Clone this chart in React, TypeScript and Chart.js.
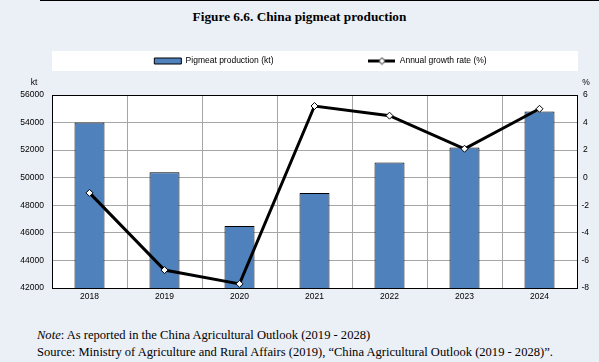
import React, { useEffect, useRef } from 'react';
import { Chart, registerables } from 'chart.js';

Chart.register(...registerables);

// ---- data ----
const years = ['2018', '2019', '2020', '2021', '2022', '2023', '2024'];
const production = [54000, 50400, 46500, 48900, 51100, 52200, 54800];
const growth = [-1.1, -6.7, -7.7, 5.2, 4.5, 2.1, 5.0];
const leftAxis = [42000, 56000, 2000];
const rightAxis = [-8, 6, 2];
const productionLabel = 'Pigmeat production (kt)';
const growthLabel = 'Annual growth rate (%)';
const leftUnit = 'kt';
const rightUnit = '%';
const titleText = 'Figure 6.6. China pigmeat production';
const noteText = ': As reported in the China Agricultural Outlook (2019 - 2028)';
const sourceText = 'Source: Ministry of Agriculture and Rural Affairs (2019), \u201cChina Agricultural Outlook (2019 - 2028)\u201d.';

// ---- style ----
const FS = 8.5;
const FAMILY = '"Liberation Sans", Arial, sans-serif';
const LEG_PAD = 10;
const BAR_COLOR = '#4f81bd';
const GRID = '#a6a6a6';
const RIGHT_SHIFT = 42;

function makeLineSwatch(): HTMLCanvasElement {
  const img = document.createElement('canvas');
  img.width = 27;
  img.height = 9;
  const c = img.getContext('2d')!;
  c.strokeStyle = '#000';
  c.lineWidth = 3;
  c.beginPath();
  c.moveTo(0, 4.5);
  c.lineTo(27, 4.5);
  c.stroke();
  c.beginPath();
  c.moveTo(13.5, 1.2);
  c.lineTo(16.8, 4.5);
  c.lineTo(13.5, 7.8);
  c.lineTo(10.2, 4.5);
  c.closePath();
  c.fillStyle = '#fff';
  c.fill();
  c.lineWidth = 1;
  c.stroke();
  return img;
}

const decorPlugin = {
  id: 'decor',
  beforeDraw(chart: any) {
    const { ctx, chartArea: a, legend } = chart;
    ctx.save();
    ctx.fillStyle = '#fff';
    ctx.fillRect(a.left, a.top, a.right - a.left, a.bottom - a.top);
    if (legend) {
      const cy = legend.top + LEG_PAD + FS / 2;
      ctx.fillRect(a.left, cy - 10, a.right - a.left + 1, 20);
    }
    ctx.restore();
  },
  afterDraw(chart: any) {
    const { ctx, chartArea: a } = chart;
    ctx.save();
    ctx.font = `${FS}px ${FAMILY}`;
    ctx.fillStyle = '#000';
    ctx.textAlign = 'center';
    ctx.textBaseline = 'middle';
    ctx.fillText(leftUnit, a.left - 18, a.top - 12);
    ctx.fillText(rightUnit, a.right + 9, a.top - 12);
    ctx.restore();
  },
};

export default function App() {
  const ref = useRef<HTMLCanvasElement>(null);

  useEffect(() => {
    if (!ref.current) return;
    const swatch = makeLineSwatch();
    const font = { family: FAMILY, size: FS };
    const chart = new Chart(ref.current, {
      type: 'bar',
      data: {
        labels: years,
        datasets: [
          {
            type: 'bar',
            label: productionLabel,
            data: production,
            backgroundColor: BAR_COLOR,
            borderColor: '#000',
            borderWidth: 1,
            barPercentage: 0.4,
            categoryPercentage: 1,
            yAxisID: 'y',
            order: 1,
          } as any,
          {
            type: 'line',
            label: growthLabel,
            data: growth,
            borderColor: '#000',
            borderWidth: 3,
            tension: 0,
            pointStyle: 'rectRot',
            pointRadius: 3.5,
            pointBackgroundColor: '#fff',
            pointBorderColor: '#000',
            pointBorderWidth: 1,
            yAxisID: 'y1',
            order: -1,
          } as any,
        ],
      },
      options: {
        responsive: false,
        animation: false,
        events: [],
        layout: { padding: { top: 46.75, left: 0, right: -RIGHT_SHIFT, bottom: 0 } },
        plugins: {
          tooltip: { enabled: false },
          title: { display: false },
          subtitle: {
            display: true,
            text: ' ',
            weight: 500,
            font: { size: 1, lineHeight: 1 },
            padding: { top: 0, bottom: 18.75 },
          } as any,
          legend: {
            display: true,
            position: 'top',
            labels: {
              usePointStyle: true,
              pointStyleWidth: 27,
              boxHeight: 6,
              padding: LEG_PAD,
              color: '#000',
              font,
              generateLabels: (ch: any) => {
                const c = ch.ctx;
                c.save();
                c.font = `${FS}px ${FAMILY}`;
                const w1 = c.measureText(productionLabel).width;
                const sp = c.measureText('\u00A0').width;
                c.restore();
                const itemW = 27 + FS / 2 + w1;
                const n = Math.max(0, Math.round((213 - LEG_PAD - itemW) / sp));
                return [
                  {
                    text: productionLabel + '\u00A0'.repeat(n),
                    fillStyle: BAR_COLOR,
                    strokeStyle: '#000',
                    lineWidth: 1,
                    pointStyle: 'rect',
                    fontColor: '#000',
                    hidden: false,
                    datasetIndex: 0,
                  },
                  {
                    text: growthLabel,
                    fillStyle: '#fff',
                    strokeStyle: '#000',
                    lineWidth: 1,
                    pointStyle: swatch,
                    fontColor: '#000',
                    hidden: false,
                    datasetIndex: 1,
                  },
                ];
              },
            },
          } as any,
        },
        scales: {
          x: {
            offset: true,
            grid: {
              offset: true,
              drawTicks: false,
              color: (c: any) => (c.index === 0 || c.index === years.length ? '#000' : GRID),
            },
            border: { color: '#000', width: 1 },
            ticks: { color: '#000', font, padding: 4 },
            afterFit: (s: any) => {
              s.height = 22;
            },
          },
          y: {
            position: 'left',
            min: leftAxis[0],
            max: leftAxis[1],
            ticks: {
              stepSize: leftAxis[2],
              color: '#000',
              font,
              padding: 8,
              callback: (v: any) => String(v),
            },
            grid: {
              drawTicks: false,
              color: (c: any) =>
                c.tick && (c.tick.value === leftAxis[1] || c.tick.value === leftAxis[0]) ? '#000' : GRID,
            },
            border: { color: '#000', width: 1 },
            afterFit: (s: any) => {
              s.width = 52;
            },
          },
          y1: {
            position: 'right',
            min: rightAxis[0],
            max: rightAxis[1],
            ticks: {
              stepSize: rightAxis[2],
              color: '#000',
              font,
              padding: 4.5,
              crossAlign: 'center',
              callback: (v: any) => String(v),
            },
            grid: { drawOnChartArea: false, drawTicks: false },
            border: { color: '#000', width: 1 },
            afterFit: (s: any) => {
              s.width = 22 + RIGHT_SHIFT;
            },
          },
        },
      } as any,
      plugins: [decorPlugin],
    });
    return () => chart.destroy();
  }, []);

  return (
    <div
      style={{
        position: 'absolute',
        left: 0,
        top: 0,
        width: 599,
        height: 362,
        background: '#ebeff6',
        overflow: 'hidden',
      }}
    >
      <div style={{ position: 'absolute', left: 40, top: 0, right: 0, height: 1, background: '#000' }} />
      <div
        style={{
          position: 'absolute',
          left: 0,
          top: 9,
          width: 599,
          textAlign: 'center',
          fontFamily: '"Liberation Serif", "Times New Roman", serif',
          fontWeight: 'bold',
          fontSize: 13.3,
          lineHeight: '16px',
          color: '#000',
        }}
      >
        {titleText}
      </div>
      <canvas ref={ref} width={599} height={310} style={{ position: 'absolute', left: 0, top: 0 }} />
      <div
        style={{
          position: 'absolute',
          left: 37,
          top: 326.5,
          fontFamily: '"Liberation Serif", "Times New Roman", serif',
          fontSize: 12.55,
          lineHeight: '17px',
          color: '#000',
          whiteSpace: 'nowrap',
        }}
      >
        <div>
          <i>Note</i>
          {noteText}
        </div>
        <div>{sourceText}</div>
      </div>
    </div>
  );
}
